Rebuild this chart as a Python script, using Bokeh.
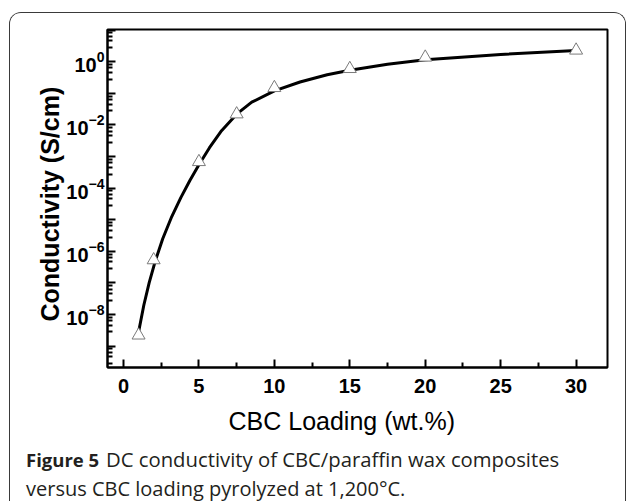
import math
from bokeh.plotting import figure
from bokeh.layouts import column
from bokeh.models import FixedTicker, Label, Range1d, Title
from bokeh.embed import file_html
from bokeh.resources import INLINE

# measured points (CBC loading wt.%, conductivity S/cm)
loading = [1, 2, 5, 7.5, 10, 15, 20, 30]
conductivity = [2.2e-9, 5.3e-7, 6.8e-4, 0.022, 0.15, 0.6, 1.38, 2.3]

# fitted curve
fit_loading = [1.0, 1.35, 1.7, 2.1, 2.6, 3.2, 3.8, 4.4, 5.0, 5.7, 6.5, 7.5,
               8.5, 10, 11.7, 13.5, 15, 17.5, 20, 25, 30]
fit_conductivity = [2.8e-9, 2.0e-8, 1.0e-7, 4.8e-7, 2.5e-6, 1.26e-5, 5.0e-5,
                    1.74e-4, 5.5e-4, 1.9e-3, 6.6e-3, 0.0219, 0.0525, 0.120,
                    0.229, 0.389, 0.537, 0.832, 1.15, 1.70, 2.29]

x_ticks = [0, 5, 10, 15, 20, 25, 30]
x_minor_ticks = [2.5, 7.5, 12.5, 17.5, 22.5, 27.5]
y_decades = [1e-9, 1e-8, 1e-7, 1e-6, 1e-5, 1e-4, 1e-3, 1e-2, 1e-1, 1e0, 1e1]
y_unlabeled = [1e-9, 1e-7, 1e-5, 1e-3, 1e-1, 1e1]
minor_mult = [2.8, 4.6, 6.4, 8.2]
y_minor_ticks = [d * m for d in [1e-10] + y_decades for m in minor_mult]

x_title = "CBC Loading (wt.%)"
y_title = "Conductivity (S/cm)"
caption_bold = "Figure 5"
caption_line1 = "DC conductivity of CBC/paraffin wax composites"
caption_line2 = "versus CBC loading pyrolyzed at 1,200°C."

# ---- main chart -------------------------------------------------------
WM, HM = 615, 430
p = figure(width=WM, height=HM, output_backend="svg", toolbar_location=None,
           y_axis_type="log",
           x_range=Range1d(-1.06, 32.08), y_range=Range1d(2.1e-10, 10.5),
           min_border_left=97, min_border_right=18,
           min_border_top=16, min_border_bottom=75)
p.frame_align = False
p.xgrid.visible = False
p.ygrid.visible = False
p.outline_line_color = "black"
p.outline_line_width = 2
p.background_fill_color = "white"
p.border_fill_color = "white"

p.xaxis.ticker = FixedTicker(ticks=x_ticks, minor_ticks=x_minor_ticks)
p.yaxis.ticker = FixedTicker(ticks=y_decades, minor_ticks=y_minor_ticks)
p.yaxis.major_label_overrides = {v: "" for v in y_unlabeled}

for ax in (p.xaxis[0], p.yaxis[0]):
    ax.axis_line_width = 2
    ax.axis_line_color = "black"
    ax.major_tick_in = 8
    ax.major_tick_out = 0
    ax.minor_tick_in = 5
    ax.minor_tick_out = 0
    ax.major_tick_line_width = 2
    ax.minor_tick_line_width = 2
    ax.major_tick_line_color = "black"
    ax.minor_tick_line_color = "black"
    ax.major_label_text_font = "Liberation Sans"
    ax.major_label_text_font_style = "bold"
    ax.major_label_text_font_size = "20px"
    ax.major_label_text_color = "black"

p.xaxis.major_label_standoff = 11
p.yaxis.major_label_standoff = 3

p.line(fit_loading, fit_conductivity, line_color="black", line_width=3)
p.scatter(loading, conductivity, marker="triangle", size=13,
          fill_color="white", line_color="#7a7a7a", line_width=1)

p.add_layout(Title(text=x_title, align="left", offset=121, standoff=18,
                   text_font="Liberation Sans", text_font_size="25px",
                   text_font_style="normal", text_color="black"), "below")
p.add_layout(Title(text=y_title, align="left", offset=46, standoff=0,
                   text_font="Liberation Sans", text_font_size="25px",
                   text_font_style="bold", text_color="black"), "left")

# ---- caption ----------------------------------------------------------
HC = 58
c = figure(width=WM, height=HC, output_backend="svg", toolbar_location=None,
           x_range=Range1d(0, WM), y_range=Range1d(HC, 0),
           min_border=0, min_border_left=0, min_border_right=0,
           min_border_top=0, min_border_bottom=0)
c.frame_align = False
c.axis.visible = False
c.grid.visible = False
c.outline_line_color = None
c.background_fill_color = "white"
c.border_fill_color = "white"

cap_font = "Open Sans"
cap_color = "#231f20"
c.add_layout(Label(x=15.5, y=15.5, text=caption_bold, text_font=cap_font,
                   text_font_size="18.5px", text_font_style="bold",
                   text_color=cap_color, text_baseline="alphabetic"))
c.add_layout(Label(x=95.5, y=15.5, text=caption_line1, text_font=cap_font,
                   text_font_size="20.3px", text_color=cap_color,
                   text_baseline="alphabetic"))
c.add_layout(Label(x=15.5, y=44.5, text=caption_line2, text_font=cap_font,
                   text_font_size="20px", text_color=cap_color,
                   text_baseline="alphabetic"))

layout = column(p, c, spacing=0, margin=(12, 0, 0, 9),
                styles={"border-top": "1.5px solid #3a3a3a",
                        "border-left": "1.5px solid #3a3a3a",
                        "border-right": "1.5px solid #3a3a3a",
                        "border-radius": "12px 12px 0 0",
                        "overflow": "hidden"})

open("out.html", "w").write(file_html(layout, INLINE))
